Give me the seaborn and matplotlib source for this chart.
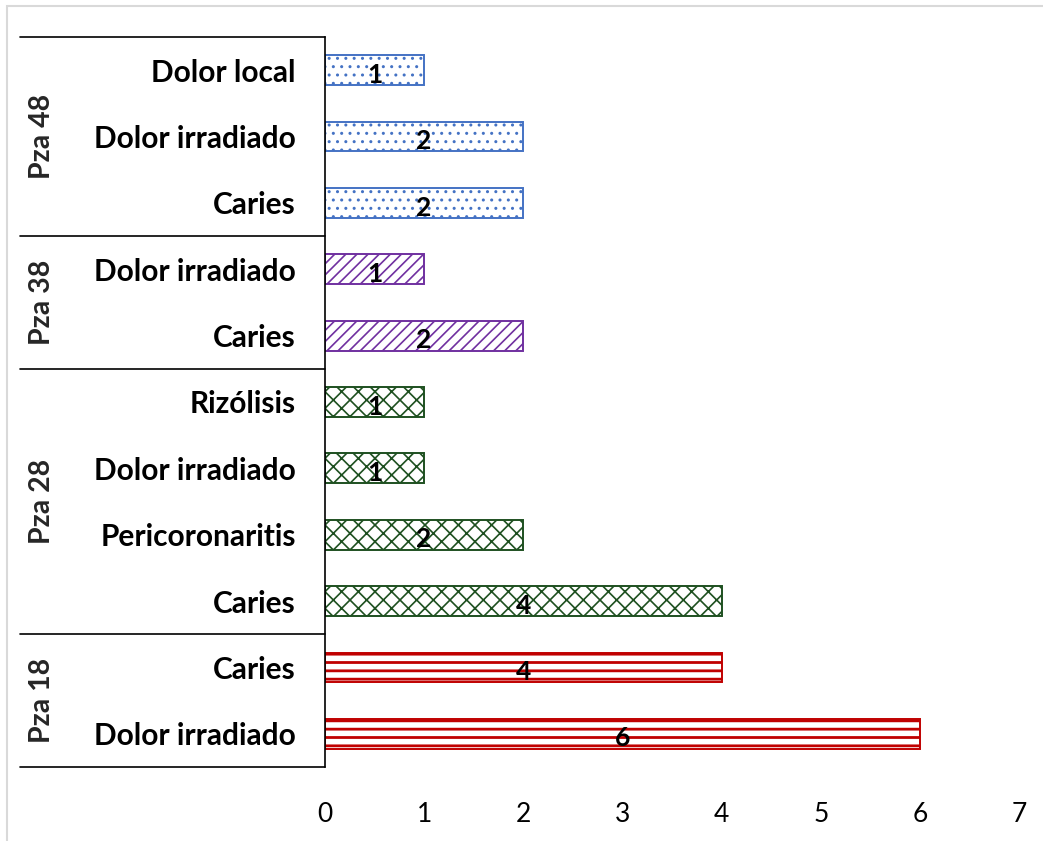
import matplotlib
matplotlib.use("Agg")
import matplotlib.pyplot as plt
import matplotlib.transforms as mtransforms
from matplotlib.patches import Rectangle
import seaborn as sns
import pandas as pd

sns.set_theme(style="white")
plt.rcParams["font.family"] = ["Lato", "DejaVu Sans"]
plt.rcParams["hatch.linewidth"] = 1.0

# Data, top to bottom
grupos = ["Pza 48", "Pza 48", "Pza 48",
          "Pza 38", "Pza 38",
          "Pza 28", "Pza 28", "Pza 28", "Pza 28",
          "Pza 18", "Pza 18"]
motivos = ["Dolor local", "Dolor irradiado", "Caries",
           "Dolor irradiado", "Caries",
           "Rizólisis", "Dolor irradiado", "Pericoronaritis", "Caries",
           "Caries", "Dolor irradiado"]
valores = [1, 2, 2,
           1, 2,
           1, 1, 2, 4,
           4, 6]
x_ticks = [0, 1, 2, 3, 4, 5, 6, 7]

# colour, hatch, hatch line width per group
estilo_grupo = {
    "Pza 48": ("#4472C4", "..", 1.0),
    "Pza 38": ("#7030A0", "///", 1.2),
    "Pza 28": ("#1E5020", "xx", 1.2),
    "Pza 18": ("#C00000", "--", 2.0),
}

df = pd.DataFrame({"grupo": grupos, "motivo": motivos, "valor": valores})
df["clave"] = [f"{g} | {m}" for g, m in zip(grupos, motivos)]

fig = plt.figure(figsize=(10.43, 8.41), dpi=100)
ax = fig.add_axes([325 / 1043, 1 - 767 / 841, 694 / 1043, 730 / 841])

sns.barplot(data=df, x="valor", y="clave", order=list(df["clave"]),
            orient="h", width=0.45, color="white", ax=ax, errorbar=None)

for patch, g in zip(ax.patches, df["grupo"]):
    color, hatch, hlw = estilo_grupo[g]
    patch.set_facecolor("white")
    patch.set_edgecolor(color)
    patch.set_hatch(hatch)
    if hasattr(patch, "set_hatch_linewidth"):
        patch.set_hatch_linewidth(hlw)
    patch.set_linewidth(1.4)

# Value labels centred in each bar
for i, v in enumerate(valores):
    ax.text(v / 2, i + 0.07, f"{v}", ha="center", va="center",
            fontsize=19, fontweight="bold", color="black")

ax.set_xlim(0, 7)
ax.set_ylim(len(valores) - 0.5, -0.5)
ax.set_xticks(x_ticks)
ax.set_xticklabels([str(t) for t in x_ticks], fontsize=19, color="black")
ax.set_yticks(range(len(motivos)))
ax.set_yticklabels(motivos, fontsize=21.5, fontweight="bold", color="black")
ax.tick_params(axis="y", length=0, pad=21)
ax.tick_params(axis="x", length=0, pad=25)
ax.set_xlabel("")
ax.set_ylabel("")

for side in ["top", "right", "bottom"]:
    ax.spines[side].set_visible(False)
ax.spines["left"].set_color("black")
ax.spines["left"].set_linewidth(1.2)

# Group separators and rotated group names
trans = mtransforms.blended_transform_factory(ax.transAxes, ax.transData)
x_left = (20 - 325) / 694
limites = [-0.5]
nombres = []
for i, g in enumerate(grupos):
    if i > 0 and g != grupos[i - 1]:
        limites.append(i - 0.5)
    if g not in nombres:
        nombres.append(g)
limites.append(len(grupos) - 0.5)
for y in limites:
    ax.plot([x_left, 0], [y, y], color="black", lw=1.2,
            transform=trans, clip_on=False)
for k, g in enumerate(nombres):
    centro = (limites[k] + limites[k + 1]) / 2
    ax.text((42 - 325) / 694, centro, g, rotation=90, ha="center",
            va="center", fontsize=20.5, fontweight="bold", transform=trans)

# Light outer frame
fig.patches.append(Rectangle((7 / 1043, -0.1), 1.2, 1 - 6 / 841 + 0.1,
                             transform=fig.transFigure, fill=False,
                             edgecolor="#D9D9D9", lw=1.5))

fig.savefig("out.png", dpi=100, facecolor="white")
